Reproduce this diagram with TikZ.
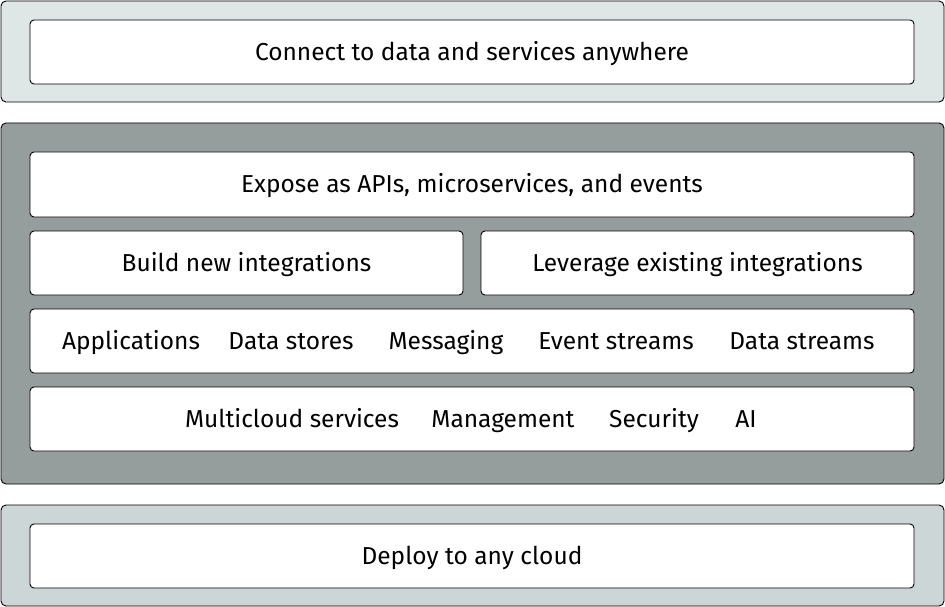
\documentclass[tikz,border=0pt]{standalone}
\usepackage{fontspec}
\setmainfont{Fira Sans}
\usepackage{tikz}
\usetikzlibrary{positioning}
\definecolor{bandlight}{HTML}{DFE6E6}
\definecolor{banddark}{HTML}{969D9D}
\definecolor{bandmid}{HTML}{CDD6D6}

\begin{document}
\begin{tikzpicture}[x=1pt, y=-1pt,
    band/.style={draw=black, line width=0.9pt, rounded corners=5pt},
    box/.style={draw=black, fill=white, line width=0.9pt, rounded corners=4pt, inner sep=0pt},
    lbl/.style={font=\fontsize{24.5}{27}\selectfont, text=black, text height=17.5pt, text depth=0.5pt}]
        \useasboundingbox (0,0) rectangle (945,607);

        % Top band
        \draw[band, fill=bandlight] (1,1) rectangle (944,102);
        \node[box, lbl, minimum width=884, minimum height=64] (connect) at (472,52) {Connect to data and services anywhere};

        % Middle band
        \draw[band, fill=banddark] (1,123) rectangle (944,484);
        \node[box, lbl, minimum width=884, minimum height=65] (expose) at (472,184.5) {Expose as APIs, microservices, and events};
        \node[box, lbl, minimum width=433, minimum height=64] (build) at (246.5,263) {Build new integrations};
        \node[box, lbl, minimum width=433, minimum height=64] (leverage) at (697.5,263) {Leverage existing integrations};

        % Endpoints row
        \node[box, minimum width=884, minimum height=64] (endpoints) at (472,341) {};
        \node[lbl] (apps) at (131,341) {Applications};
        \node[lbl] (stores) at (291,341) {Data stores};
        \node[lbl] (msg) at (446,341) {Messaging};
        \node[lbl] (events) at (616,341) {Event streams};
        \node[lbl] (streams) at (802,341) {Data streams};

        % Services row
        \node[box, minimum width=884, minimum height=64] (services) at (472,419) {};
        \node[lbl] (multi) at (292,419) {Multicloud services};
        \node[lbl] (mgmt) at (503,419) {Management};
        \node[lbl] (sec) at (654,419) {Security};
        \node[lbl] (ai) at (746,419) {AI};

        % Bottom band
        \draw[band, fill=bandmid] (1,505) rectangle (944,606);
        \node[box, lbl, minimum width=884, minimum height=64] (deploy) at (472,556) {Deploy to any cloud};
\end{tikzpicture}
\end{document}
